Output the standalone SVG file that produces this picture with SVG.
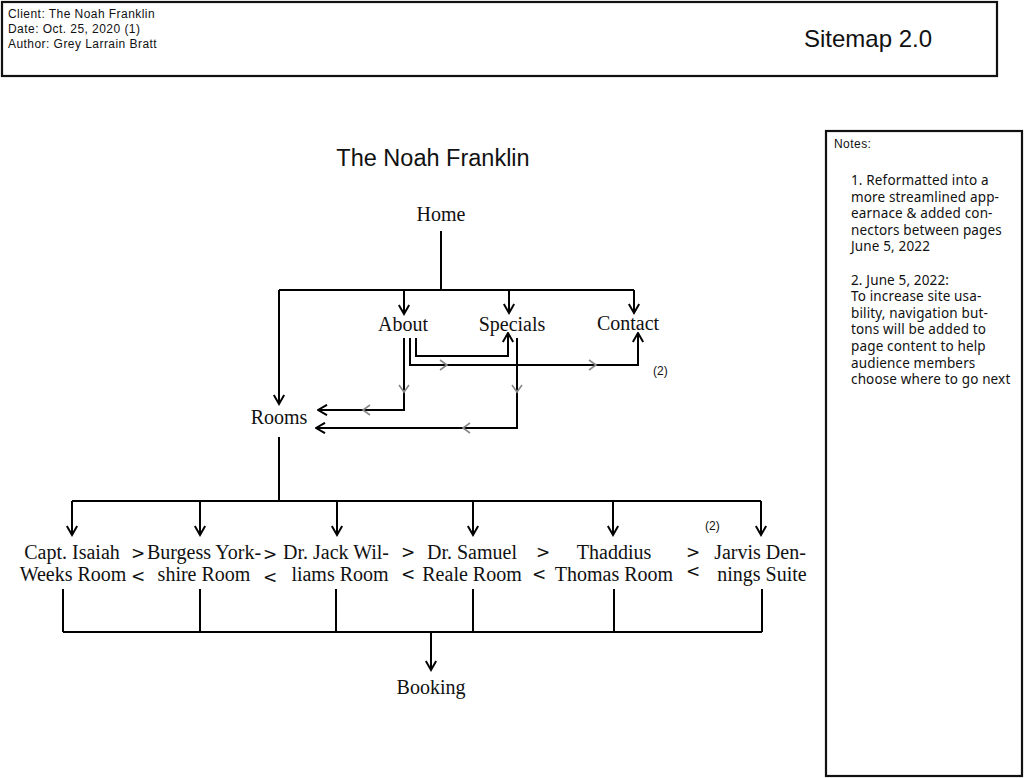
<svg xmlns="http://www.w3.org/2000/svg" width="1024" height="778" viewBox="0 0 1024 778">
<style>
.box{fill:#fff;stroke:#111;stroke-width:2.2}
.hdr{font-family:"Liberation Sans",Arial,sans-serif;font-size:12px;letter-spacing:0.45px;fill:#111}
.title{font-family:"Liberation Sans",Arial,sans-serif;fill:#111}
.note{font-family:"Noto Sans","DejaVu Sans",sans-serif;font-size:13.5px;letter-spacing:0.15px;fill:#111}
.node{font-family:"Liberation Serif","Times New Roman",serif;font-size:20px;fill:#111;text-anchor:middle}
.nav{font-family:"DejaVu Sans",sans-serif;font-size:17px;fill:#111;text-anchor:middle}
.small{font-family:"Liberation Sans",Arial,sans-serif;font-size:12px;fill:#111}
.ln{fill:none;stroke:#000;stroke-width:2}
.gr{fill:none;stroke:#888;stroke-width:1.6}
</style>
<defs>
<marker id="arr" viewBox="0 0 12 12" refX="10.5" refY="6" markerWidth="12" markerHeight="12" markerUnits="userSpaceOnUse" orient="auto">
<path d="M1.5,0.8 L10.5,6 L1.5,11.2" fill="none" stroke="#000" stroke-width="2"/>
</marker>
</defs>
<rect width="1024" height="778" fill="#fff"/>

<g id="header">
<rect class="box" x="2" y="2" width="995" height="74"/>
<text class="hdr" x="8" y="18">Client: The Noah Franklin</text>
<text class="hdr" x="8" y="33">Date: Oct. 25, 2020 (1)</text>
<text class="hdr" x="8" y="48">Author: Grey Larrain Bratt</text>
<text class="title" x="804" y="47" font-size="24">Sitemap 2.0</text>
</g>

<g id="notes">
<rect class="box" x="826" y="131" width="196" height="645"/>
<text class="hdr" x="834" y="148" font-size="11" letter-spacing="0">Notes:</text>
<text class="note">
<tspan x="851" y="185">1. Reformatted into a</tspan>
<tspan x="851" y="201.6">more streamlined app-</tspan>
<tspan x="851" y="218.2">earnace &amp; added con-</tspan>
<tspan x="851" y="234.8">nectors between pages</tspan>
<tspan x="851" y="251.4">June 5, 2022</tspan>
<tspan x="851" y="284.6">2. June 5, 2022:</tspan>
<tspan x="851" y="301.2">To increase site usa-</tspan>
<tspan x="851" y="317.8">bility, navigation but-</tspan>
<tspan x="851" y="334.4">tons will be added to</tspan>
<tspan x="851" y="351">page content to help</tspan>
<tspan x="851" y="367.6">audience members</tspan>
<tspan x="851" y="384.2">choose where to go next</tspan>
</text>
</g>

<g id="title"><text class="title" x="433" y="166" font-size="23.5" text-anchor="middle">The Noah Franklin</text></g>

<g id="connectors">
<path class="ln" d="M441,231 V290"/>
<path class="ln" d="M279,290 H634"/>
<path class="ln" d="M279,290 V404" marker-end="url(#arr)"/>
<path class="ln" d="M404,290 V314" marker-end="url(#arr)"/>
<path class="ln" d="M509,290 V313" marker-end="url(#arr)"/>
<path class="ln" d="M634,290 V313" marker-end="url(#arr)"/>
<path class="ln" d="M404,338 V410 H318" marker-end="url(#arr)"/>
<path class="ln" d="M410,338 V365 H638 V333" marker-end="url(#arr)"/>
<path class="ln" d="M416,338 V356 H508 V333" marker-end="url(#arr)"/>
<path class="ln" d="M517,338 V428 H316" marker-end="url(#arr)"/>
<path class="gr" d="M399,385 L404,392 L409,385"/>
<path class="gr" d="M512,385 L517,392 L522,385"/>
<path class="gr" d="M370,405 L363,410 L370,415"/>
<path class="gr" d="M470,423 L463,428 L470,433"/>
<path class="gr" d="M440,360 L447,365 L440,370"/>
<path class="gr" d="M589,360 L596,365 L589,370"/>
<path class="ln" d="M279,437 V501"/>
<path class="ln" d="M72,501 H761"/>
<path class="ln" d="M72,501 V535" marker-end="url(#arr)"/>
<path class="ln" d="M200,501 V535" marker-end="url(#arr)"/>
<path class="ln" d="M337,501 V535" marker-end="url(#arr)"/>
<path class="ln" d="M473,501 V535" marker-end="url(#arr)"/>
<path class="ln" d="M613,501 V535" marker-end="url(#arr)"/>
<path class="ln" d="M761,501 V535" marker-end="url(#arr)"/>
<path class="ln" d="M63,589 V632 M200,589 V632 M336,589 V632 M473,589 V632 M614,589 V632 M762,589 V632"/>
<path class="ln" d="M63,632 H762"/>
<path class="ln" d="M431,632 V670" marker-end="url(#arr)"/>
</g>

<g id="home"><text class="node" x="441" y="221">Home</text></g>
<g id="about"><text class="node" x="403" y="331">About</text></g>
<g id="specials"><text class="node" x="512" y="331">Specials</text></g>
<g id="contact"><text class="node" x="628" y="330">Contact</text></g>
<g id="note-contact"><text class="small" x="653" y="375">(2)</text></g>
<g id="rooms"><text class="node" x="279" y="424">Rooms</text></g>

<g id="capt"><text class="node"><tspan x="72" y="559">Capt. Isaiah</tspan><tspan x="73" y="581">Weeks Room</tspan></text></g>
<g id="burgess"><text class="node"><tspan x="204" y="559">Burgess York-</tspan><tspan x="204" y="581">shire Room</tspan></text></g>
<g id="jack"><text class="node"><tspan x="336" y="559">Dr. Jack Wil-</tspan><tspan x="340" y="581">liams Room</tspan></text></g>
<g id="samuel"><text class="node"><tspan x="472" y="559">Dr. Samuel</tspan><tspan x="472" y="581">Reale Room</tspan></text></g>
<g id="thaddius"><text class="node"><tspan x="614" y="559">Thaddius</tspan><tspan x="614" y="581">Thomas Room</tspan></text></g>
<g id="jarvis"><text class="node"><tspan x="760" y="559">Jarvis Den-</tspan><tspan x="762" y="581">nings Suite</tspan></text></g>
<g id="note-jarvis"><text class="small" x="705" y="530">(2)</text></g>

<g id="nav-buttons">
<text class="nav" x="138" y="559">&gt;</text><text class="nav" x="138" y="582">&lt;</text>
<text class="nav" x="270" y="560">&gt;</text><text class="nav" x="270" y="583">&lt;</text>
<text class="nav" x="408" y="558">&gt;</text><text class="nav" x="408" y="580">&lt;</text>
<text class="nav" x="543" y="558">&gt;</text><text class="nav" x="539" y="580">&lt;</text>
<text class="nav" x="693" y="558">&gt;</text><text class="nav" x="693" y="577">&lt;</text>
</g>

<g id="booking"><text class="node" x="431" y="694">Booking</text></g>
</svg>
